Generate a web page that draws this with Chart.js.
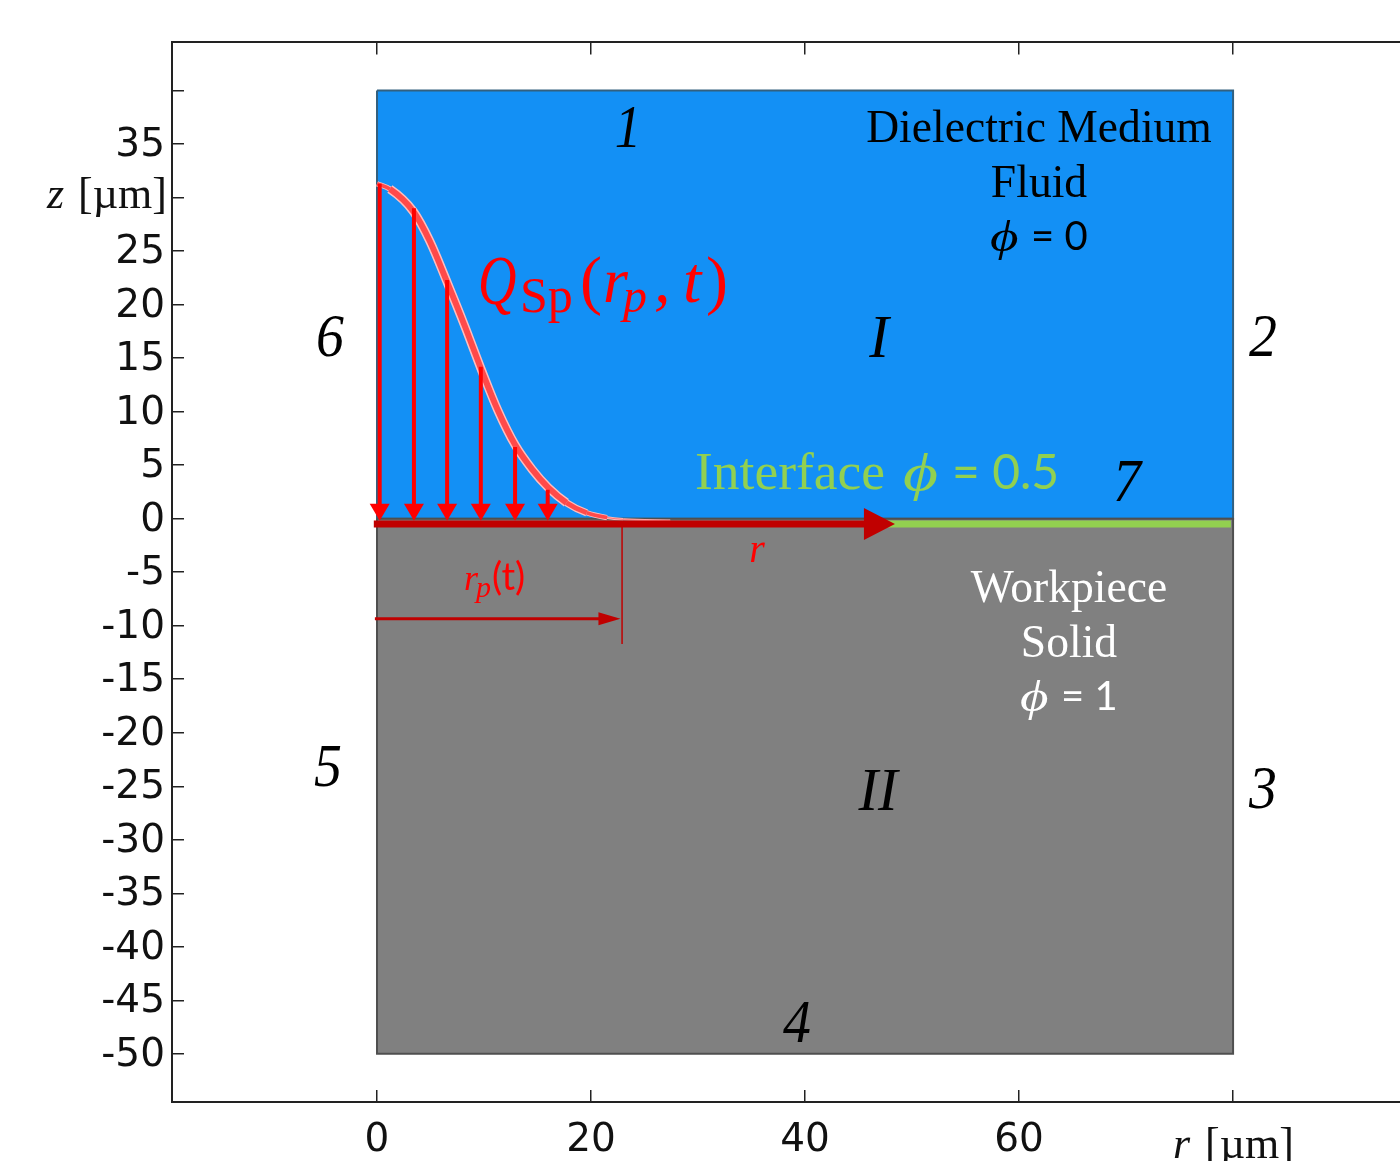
<!DOCTYPE html>
<html><head><meta charset="utf-8">
<style>html,body{margin:0;padding:0;background:#fff;overflow:hidden}canvas{display:block}</style>
<script src="https://cdn.jsdelivr.net/npm/chart.js@4"></script>
</head><body><canvas id="c" width="1400" height="1161"></canvas>
<script>
// ---- data (µm) ----
const rTicks = [0, 20, 40, 60, 80];
const rTickLabels = ['0', '20', '40', '60', ''];
const zTicks = [-50,-45,-40,-35,-30,-25,-20,-15,-10,-5,0,5,10,15,20,25,30,35,40];
const zTickLabels = ['-50','-45','-40','-35','-30','-25','-20','-15','-10','-5','0','5','10','15','20','25','','35',''];
const fluidR = [0, 80, 80, 0, 0];
const fluidZ = [40, 40, 0, 0, 40];
const solidR = [0, 80, 80, 0, 0];
const solidZ = [0, 0, -50, -50, 0];
const curveR = [0, 1.2, 3.4, 4.95, 6.57, 8.2, 9.8, 11.3, 12.9, 14.5, 16.0, 17.7, 19.6, 21.5, 23, 27.4];
const curveZ = [31.3, 30.8, 28.7, 25.9, 22.05, 18.0, 13.8, 10.1, 6.9, 4.6, 2.9, 1.5, 0.55, 0.1, -0.06, -0.16];
const fluxR = [0.25, 3.45, 6.55, 9.7, 12.9, 15.95];
const fluxTopZ = [31.3, 29.0, 22.3, 14.2, 6.7, 2.7];
const fluxTipZ = -0.2;
const axisArrowR = [-0.3, 46.6];
const axisArrowZ = [-0.5, -0.5];
const interfaceR = [46.6, 79.8];
const interfaceZ = [-0.5, -0.5];
const rpArrowR = [-0.2, 21];
const rpArrowZ = [-9.35, -9.35];
const rpMarkR = [22.9, 22.9];
const rpMarkZ = [-0.7, -11.7];

const zip = (a, b) => a.map((v, i) => ({x: v, y: b[i]}));
const DARKRED = '#C00000', RED = '#FF0000', GREEN = '#92D050';
const line = (data, color, width, extra) => Object.assign({
  data, borderColor: color, borderWidth: width, showLine: true, pointRadius: 0, fill: false, tension: 0
}, extra || {});

const taper = (n, tail) => ctx => {
  const i = ctx.p0DataIndex;
  return i >= 14 ? tail : i === 13 ? tail * 1.3 : i === 12 ? n * 0.6 : i === 11 ? n * 0.8 : i === 0 ? n * 0.6 : n;
};
const smooth = {cubicInterpolationMode: 'monotone'};

// listed bottom to top
const datasets = [
  line(zip(fluidR, fluidZ), '#33607f', 2, {fill: 'shape', backgroundColor: '#1390F5'}),
  line(zip(solidR, solidZ), '#4f4f4f', 2, {fill: 'shape', backgroundColor: '#808080'}),
  line(zip(curveR, curveZ), '#FFBDBD', 9, Object.assign({segment: {borderWidth: taper(9, 2)}}, smooth)),
  line(zip(curveR, curveZ), '#FF4A4A', 6, Object.assign({segment: {borderWidth: taper(6, 0.5)}}, smooth)),
];
fluxR.forEach((r, i) => datasets.push(line(zip([r, r], [fluxTopZ[i], fluxTipZ + 1.2]), RED, 4)));
datasets.push(line(zip(interfaceR, interfaceZ), GREEN, 7));
datasets.push(line(zip(axisArrowR, axisArrowZ), DARKRED, 7));
datasets.push(line(zip(rpArrowR, rpArrowZ), DARKRED, 3));
datasets.push(line(zip(rpMarkR, rpMarkZ), DARKRED, 1.5));
datasets.forEach((d, i) => { d.order = datasets.length - i; });

// arrow heads, placed through the scales
const arrowHeads = {
  id: 'arrowHeads',
  afterDatasetsDraw(chart) {
    const {ctx, scales: {x, y}} = chart;
    const head = (r, z, dx, dy, len, wid, color) => {
      const px = x.getPixelForValue(r), py = y.getPixelForValue(z);
      ctx.fillStyle = color;
      ctx.beginPath();
      ctx.moveTo(px, py);
      ctx.lineTo(px - dx * len - dy * wid / 2, py - dy * len - dx * wid / 2);
      ctx.lineTo(px - dx * len + dy * wid / 2, py - dy * len + dx * wid / 2);
      ctx.closePath();
      ctx.fill();
    };
    fluxR.forEach(r => head(r, fluxTipZ, 0, 1, 17, 20, RED));
    head(48.4, axisArrowZ[1], 1, 0, 31, 32, DARKRED);
    head(22.75, rpArrowZ[1], 1, 0, 22, 13, DARKRED);
  }
};

// annotation text: runs of [text, x, baseline, font, colour, horizontal scale]
const SERIF = '"Liberation Serif"', SANS = 'Lato';
const BLACK = '#000', WHITE = '#fff';
const center = [
  ['1', 628, 147, 'italic 62px ' + SERIF, BLACK, 0.85],
  ['I', 879, 357, 'italic 62px ' + SERIF, BLACK, 0.95],
  ['II', 878, 810, 'italic 62px ' + SERIF, BLACK, 0.95],
  ['2', 1263, 356, 'italic 62px ' + SERIF, BLACK, 0.9],
  ['3', 1263, 808, 'italic 62px ' + SERIF, BLACK, 0.9],
  ['4', 797, 1042, 'italic 62px ' + SERIF, BLACK, 0.9],
  ['5', 328, 786, 'italic 62px ' + SERIF, BLACK, 0.9],
  ['6', 330, 356, 'italic 62px ' + SERIF, BLACK, 0.9],
  ['7', 1127, 501, 'italic 62px ' + SERIF, BLACK, 0.9],
  ['Dielectric Medium', 1039, 142, '45.6px ' + SERIF, BLACK],
  ['Fluid', 1039, 197, '45.6px ' + SERIF, BLACK],
  ['Workpiece', 1069, 602, '45.6px ' + SERIF, WHITE],
  ['Solid', 1069, 657, '45.6px ' + SERIF, WHITE],
  ['r', 757, 562, 'italic 40px ' + SERIF, RED],
];
const runs = [
  ['\u03D5', 990, 251, 'italic 44px ' + SERIF, BLACK, 1.25],
  ['= 0', 1031, 250, '40px ' + SANS, BLACK],
  ['\u03D5', 1020, 711, 'italic 44px ' + SERIF, WHITE, 1.25],
  ['= 1', 1061, 710, '40px ' + SANS, WHITE],
  ['Interface', 695, 489, '53.5px ' + SERIF, GREEN],
  ['\u03D5', 903, 490, 'italic 52px ' + SERIF, GREEN, 1.3],
  ['= 0.5', 952, 489, '48px ' + SANS, GREEN],
  ['Q', 478, 304, 'italic 70px ' + SERIF, RED, 0.76],
  ['Sp', 520, 312, '50px ' + SERIF, RED],
  ['(', 580, 302, '66px ' + SERIF, RED],
  ['r', 603, 302, 'italic 64px ' + SERIF, RED],
  ['p', 623, 312, 'italic 48px ' + SERIF, RED],
  [',', 654, 302, 'italic 66px ' + SERIF, RED],
  ['t', 683, 302, 'italic 66px ' + SERIF, RED],
  [')', 706, 302, '66px ' + SERIF, RED],
  ['r', 464, 590, 'italic 36px ' + SERIF, RED],
  ['p', 476, 597, 'italic 30px ' + SERIF, RED],
  ['(t)', 492, 590, '38px ' + SANS, RED],
  ['z', 47, 208, 'italic 44px ' + SERIF, '#111'],
  ['[\u00B5m]', 78, 208, '44px ' + SERIF, '#111'],
  ['r', 1173, 1158, 'italic 44px ' + SERIF, '#111'],
  ['[\u00B5m]', 1205, 1158, '44px ' + SERIF, '#111'],
];
const annotations = {
  id: 'annotations',
  afterDraw(chart) {
    const {ctx} = chart;
    ctx.textBaseline = 'alphabetic';
    const put = ([t, x, y, f, c, sx], align) => {
      ctx.save();
      ctx.font = f; ctx.fillStyle = c; ctx.textAlign = align;
      ctx.translate(x, y); ctx.scale(sx || 1, 1);
      ctx.fillText(t, 0, 0);
      ctx.restore();
    };
    center.forEach(a => put(a, 'center'));
    runs.forEach(a => put(a, 'left'));
  }
};

const axisInk = '#222';
const tickFont = {family: '"DejaVu Sans"', size: 39};
new Chart(document.getElementById('c'), {
  type: 'scatter',
  data: {datasets},
  plugins: [arrowHeads, annotations],
  options: {
    responsive: false, animation: false, devicePixelRatio: 1,
    layout: {padding: 0},
    plugins: {legend: {display: false}, tooltip: {enabled: false}, title: {display: false}},
    scales: {
      x: {
        type: 'linear', position: 'bottom', min: -19.16, max: 95.6,
        afterFit: s => { s.height = 59; },
        border: {display: true, color: axisInk, width: 2},
        grid: {drawOnChartArea: false, drawTicks: true, tickLength: -12, color: axisInk, lineWidth: 1.5},
        ticks: {
          stepSize: 20, includeBounds: false, autoSkip: false, maxRotation: 0, padding: 27,
          color: '#111', font: tickFont,
          callback: v => rTickLabels[rTicks.indexOf(v)] ?? ''
        }
      },
      xTop: {
        type: 'linear', position: 'top', min: -19.16, max: 95.6,
        afterFit: s => { s.height = 41; },
        border: {display: true, color: axisInk, width: 2},
        grid: {drawOnChartArea: false, drawTicks: true, tickLength: -12, color: axisInk, lineWidth: 1.5},
        ticks: {stepSize: 20, includeBounds: false, display: false}
      },
      y: {
        type: 'linear', position: 'left', min: -54.5, max: 44.5,
        afterFit: s => { s.width = 172; },
        border: {display: true, color: axisInk, width: 2},
        grid: {drawOnChartArea: false, drawTicks: true, tickLength: -12, color: axisInk, lineWidth: 1.5},
        ticks: {
          stepSize: 5, includeBounds: false, autoSkip: false, maxTicksLimit: 40, padding: 19, labelOffset: 2,
          color: '#111', font: tickFont,
          callback: v => zTickLabels[zTicks.indexOf(v)] ?? ''
        }
      }
    }
  }
});
</script></body></html>
